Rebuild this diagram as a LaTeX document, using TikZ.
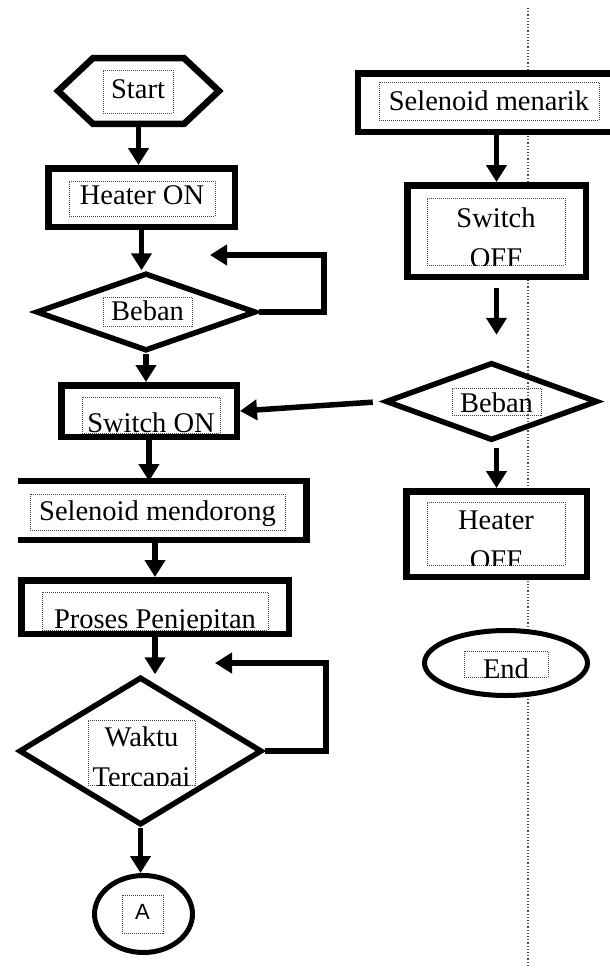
\documentclass[tikz,border=0pt]{standalone}
\usepackage{fontspec}
\setmainfont{Liberation Serif}
\newfontfamily\sansA{Liberation Sans}
\usetikzlibrary{shapes.geometric,arrows.meta,calc}

\tikzset{
  box/.style={draw, line width=6.5pt, fill=white, inner sep=0pt},
  dec/.style={draw, diamond, line width=5.5pt, inner sep=0pt},
  term/.style={draw, ellipse, line width=5pt, fill=white, inner sep=0pt},
  inbox/.style={draw=black!75, densely dotted, line width=1pt, inner sep=0pt},
  txt/.style={font=\fontsize{28.5}{40}\selectfont, text=black, inner sep=0pt, align=center},
  arr/.style={line width=5.5pt, -{Triangle[length=17pt,width=20pt]}},
}

% dotted text frame, text clipped to it
\newcommand{\inlabel}[6]{%
  \node[inbox, minimum width=#3pt, minimum height=#4pt] (#1) at (#2) {};
  \begin{scope}
    \clip (#1.south west) rectangle (#1.north east);
    \node[txt, anchor=base] at (#5) {#6};
  \end{scope}}

\begin{document}
\begin{tikzpicture}[x=1pt, y=-1pt]
  \useasboundingbox (0,0) rectangle (610,970);

  % Trennlinie
  \draw[black!70, line width=1.2pt, dotted] (528,8) -- (528,965);

  % Kolom kiri
  \node[inner sep=0pt, minimum width=160.5pt, minimum height=65.5pt] (start) at (138.5,91) {};
  \draw[line width=6.5pt, fill=white] (start.west) -- ($(start.north west)+(35,0)$) -- ($(start.north east)+(-35,0)$)
    -- (start.east) -- ($(start.south east)+(-35,0)$) -- ($(start.south west)+(35,0)$) -- cycle;
  \node[box, minimum width=186.5pt, minimum height=58.5pt] (heat) at (141.5,197.5) {};
  \node[dec, minimum width=220pt, minimum height=78pt] (beb1) at (146,312) {};
  \node[box, minimum width=175.5pt, minimum height=51.5pt] (swon) at (149,411) {};
  \node[inner sep=0pt, minimum width=288.5pt, minimum height=58.5pt] (selp) at (162,510.5) {};
  \draw[line width=6.5pt] (selp.north west) -- (selp.north east) -- (selp.south east) -- (selp.south west);
  \node[box, minimum width=267.5pt, minimum height=53.5pt] (proc) at (155,607) {};
  \node[dec, minimum width=243pt, minimum height=148pt] (wkt) at (140.5,751) {};
  \node[term, minimum width=98pt, minimum height=77pt] (conA) at (143.5,914) {};

  % Kolom kanan
  \node[box, minimum width=267pt, minimum height=58.5pt] (selm) at (491.5,102.5) {};
  \node[box, minimum width=178.5pt, minimum height=91.5pt] (swoff) at (496.5,231) {};
  \node[dec, minimum width=212pt, minimum height=78pt] (beb2) at (491.5,401.5) {};
  \node[box, minimum width=180.5pt, minimum height=85.5pt] (hoff) at (496.5,534) {};
  \node[term, minimum width=163pt, minimum height=65pt] (endn) at (506,663) {};

  % Teks
  \inlabel{tStart}{138,91.5}{70}{43}{138,98}{Start}
  \inlabel{tHeat}{142,198.5}{146}{35}{142,204}{Heater ON}
  \inlabel{tBeb1}{147.5,311.5}{89}{29}{147.5,320}{Beban}
  \inlabel{tSwon}{151,415}{138}{36}{151,432}{Switch ON}
  \inlabel{tSelp}{157.5,512}{255}{36}{157.5,520}{Selenoid mendorong}
  \inlabel{tProc}{155,611}{226}{38}{155,628}{Proses Penjepitan}
  \inlabel{tWkt}{141.5,752.5}{107}{65}{141.5,786}{Waktu\\Tercapai}
  \inlabel{tA}{142.5,914}{41}{38}{142.5,919}{{\sansA\fontsize{22}{26}\selectfont A}}
  \inlabel{tSelm}{489,101}{220}{38}{489,110}{Selenoid menarik}
  \inlabel{tSwoff}{496,231.5}{138}{67}{496,267}{Switch\\OFF}
  \inlabel{tBeb2}{496.5,401.5}{89}{27}{496.5,412}{Beban}
  \inlabel{tHoff}{496,533.5}{138}{63}{496,569}{Heater\\OFF}
  \inlabel{tEnd}{506,664}{84}{26}{506,678}{End}

  % Panah kiri
  \coordinate (back1) at (210,255);
  \coordinate (back2) at (215,663);
  \draw[arr] (start.south) -- (start.south |- heat.north);
  \draw[arr] (heat.south) -- (heat.south |- beb1.north);
  \draw[arr] (beb1.east) -- ++(65,0) |- (back1);
  \draw[arr] (beb1.south) -- (beb1.south |- swon.north);
  \draw[arr] (swon.south) -- (swon.south |- selp.north);
  \draw[arr] (proc.north |- selp.south) -- (proc.north);
  \draw[arr] (proc.south) -- (proc.south |- wkt.north);
  \draw[arr] (wkt.east) -- ++(61,0) |- (back2);
  \draw[arr] (wkt.south) -- (wkt.south |- conA.north);

  % Panah kanan
  \draw[arr] (swoff.north |- selm.south) -- (swoff.north);
  \draw[arr, shorten <=8pt, shorten >=25pt] (swoff.south) -- (swoff.south |- beb2.north);
  \draw[arr, shorten <=5pt] (beb2.south -| hoff.north) -- (hoff.north);
  \draw[arr, shorten <=10pt] (beb2.west) -- (swon.east);
\end{tikzpicture}
\end{document}
